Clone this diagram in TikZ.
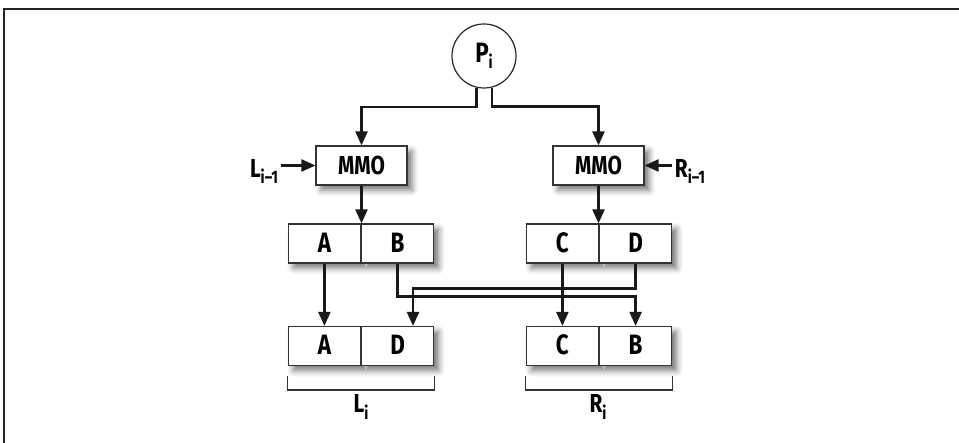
\documentclass[tikz,border=0pt]{standalone}
\usepackage{fontspec}
\setmainfont{Fira Sans}[FakeStretch=0.8]
\usetikzlibrary{arrows.meta,calc,shapes.multipart,shadows.blur}

\newcommand\halfcell[1]{\makebox[36pt]{\rule[-5.25pt]{0pt}{19.5pt}#1}}
\newcommand\lowsub[1]{\raisebox{-3pt}{\fontsize{9}{9}\selectfont #1}}

\tikzset{
  boxshadow/.style={blur shadow={shadow xshift=2.5pt, shadow yshift=-2.5pt,
      shadow blur radius=3pt, shadow opacity=55}},
  mmo/.style={draw=black!80, line width=0.6pt, fill=white, minimum width=45.5pt,
      minimum height=19.5pt, inner sep=0pt, boxshadow,
      font=\fontsize{13}{14}\selectfont\bfseries},
  pair/.style={rectangle split, rectangle split horizontal, rectangle split parts=2,
      draw=black!80, line width=0.6pt, fill=white, inner sep=0pt, boxshadow,
      font=\fontsize{14}{15}\selectfont\bfseries},
  lbl/.style={inner sep=1.5pt, font=\fontsize{13}{14}\selectfont\bfseries},
  arr/.style={-{Triangle[length=7pt,width=6pt]}, line width=1.2pt, black!90},
  brace/.style={line width=0.6pt, black!80}
}

\begin{document}
\begin{tikzpicture}[x=0.5pt, y=-0.5pt]
    \useasboundingbox (0,0) rectangle (959,443);
    \draw[line width=1pt, black!85] (4,443) -- (4,9) -- (959,9);

    \node[circle, draw=black!85, line width=0.6pt, minimum size=32pt, inner sep=0pt,
        font=\fontsize{14}{15}\selectfont\bfseries] (p) at (484,56) {P\lowsub{i}};

    % round function blocks
    \node[mmo] (mmoL) at (361.5,165.5) {MMO};
    \node[mmo] (mmoR) at (598.5,165.5) {MMO};
    \node[lbl, anchor=base] (lprev) at (264,178) {L\lowsub{i–1}};
    \node[lbl, anchor=base] (rprev) at (690,178) {R\lowsub{i–1}};

    % halves before and after the swap
    \node[pair] (ab) at (361,243.5) {\halfcell{A}\nodepart{two}\halfcell{B}};
    \node[pair] (cd) at (599,243.5) {\halfcell{C}\nodepart{two}\halfcell{D}};
    \node[pair] (ad) at (361,346) {\halfcell{A}\nodepart{two}\halfcell{D}};
    \node[pair] (cb) at (599,346) {\halfcell{C}\nodepart{two}\halfcell{B}};

    \draw[arr] (p.-103.5) -- ++(0,19) -| (mmoL.north);
    \draw[arr] (p.-76.5) -- ++(0,19) -| (mmoR.north);
    \draw[arr] (lprev.east |- mmoL.west) -- (mmoL.west);
    \draw[arr] (rprev.west |- mmoR.east) -- (mmoR.east);
    \draw[arr] (mmoL.south) -- (mmoL.south |- ab.north);
    \draw[arr] (mmoR.south) -- (mmoR.south |- cd.north);

    \draw[arr] ($(ab.south west)!.25!(ab.south east)$) -- ($(ad.north west)!.25!(ad.north east)$);
    \draw[arr] ($(ab.south west)!.75!(ab.south east)$) -- ++(0,33) -| ($(cb.north west)!.75!(cb.north east)$);
    \draw[arr] ($(cd.south west)!.75!(cd.south east)$) -- ++(0,25) -| ([xshift=26pt]ad.north);
    \draw[arr] ($(cd.south west)!.25!(cd.south east)$) -- ($(cb.north west)!.25!(cb.north east)$);

    % brackets
    \draw[brace] ([yshift=-5pt]ad.south west) -- ++(0,14) -| ([yshift=-5pt]ad.south east);
    \draw[brace] ([yshift=-5pt]cb.south west) -- ++(0,14) -| ([yshift=-5pt]cb.south east);
    \node[lbl, anchor=base] (li) at (361,413) {L\lowsub{i}};
    \node[lbl, anchor=base] (ri) at (598,413) {R\lowsub{i}};
\end{tikzpicture}
\end{document}
